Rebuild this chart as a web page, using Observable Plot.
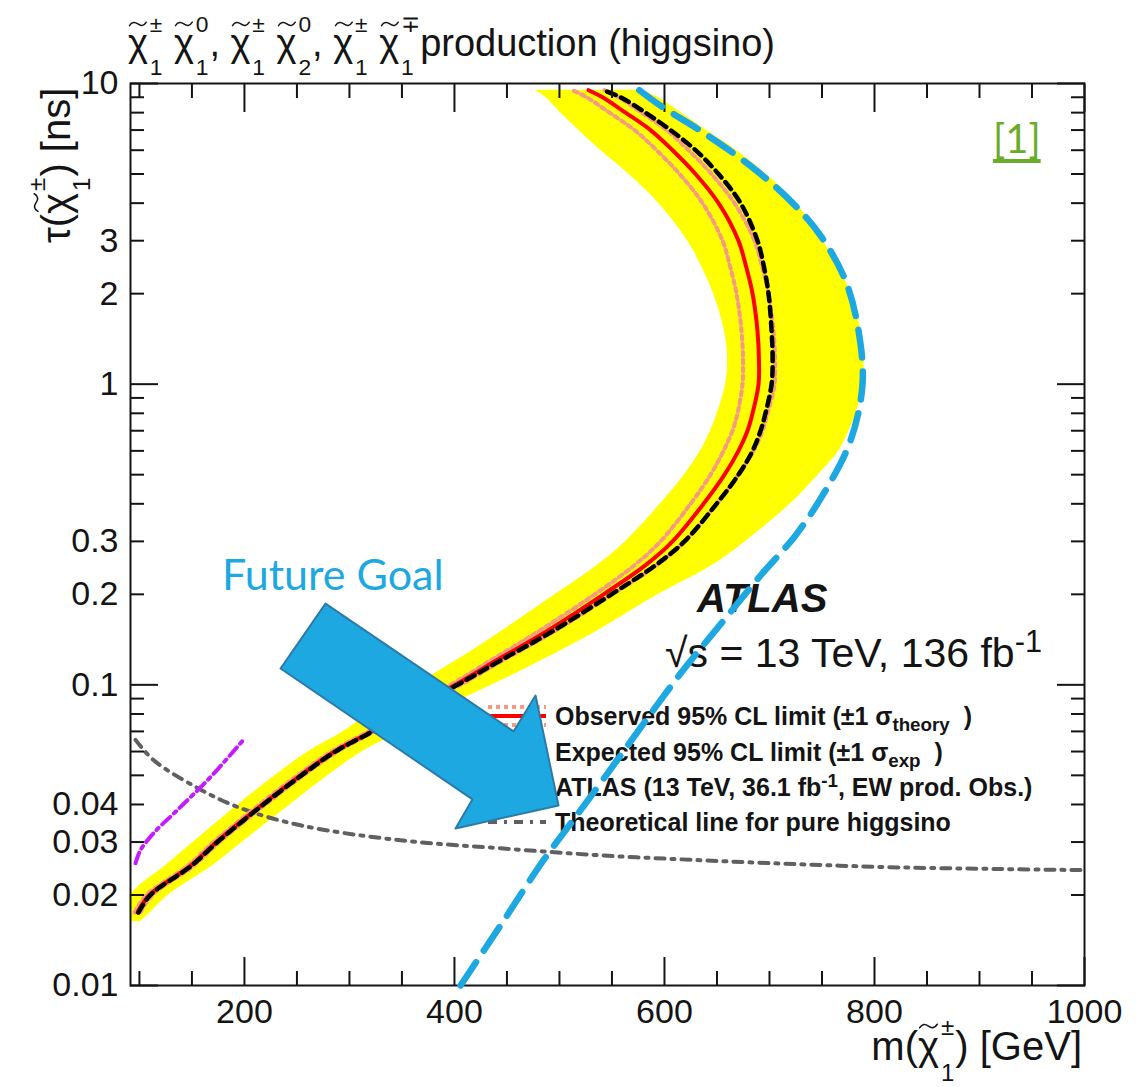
<!DOCTYPE html>
<html>
<head>
<meta charset="utf-8">
<script src="https://cdn.jsdelivr.net/npm/d3@7"></script>
<script src="https://cdn.jsdelivr.net/npm/@observablehq/plot@0.6"></script>
<style>
  html, body { margin: 0; padding: 0; background: #fff; overflow: hidden; }
  #wrap { position: relative; width: 1147px; height: 1087px; font-family: "Liberation Sans", Arial, sans-serif; color: #111; }
  .layer { position: absolute; left: 0; top: 0; }
  .t { position: absolute; white-space: nowrap; line-height: 1; }
  .chi { position: relative; display: inline-block; }
  .chi .til { position: absolute; left: .01em; top: -.07em; width: .52em; height: .155em; overflow: visible; }
  .scr { display: inline-block; position: relative; width: .68em; height: 0; font-size: .6em; }
  .scr.wide { width: .92em; }
  .scr .sp { position: absolute; left: .08em; bottom: .88em; line-height: 1; }
  .scr .sb { position: absolute; left: .08em; top: .02em; line-height: 1; }
  sub, sup { line-height: 0; font-size: .75em; }
</style>
</head>
<body>
<div id="wrap">
  <div id="base" class="layer" style="z-index:1"></div>
  <div id="overlay" class="layer" style="z-index:2;width:1147px;height:1087px"></div>
  <div id="top" class="layer" style="z-index:3"></div>
</div>
<script>
// ---- Lifetime grid (ns) shared by the limit contours ----
const tau = [0.0175, 0.02, 0.025, 0.03, 0.04, 0.05, 0.06, 0.07, 0.08, 0.1, 0.12, 0.15, 0.2, 0.25, 0.3, 0.4, 0.5, 0.6, 0.7, 0.8, 1, 1.2, 1.5, 2, 2.5, 3, 4, 5, 6, 7, 8, 9, 9.5];

// Observed 95% CL limit on m(chargino) [GeV] and its ±1σ theory variations
const observed = [98.2, 109.6, 148.6, 173.4, 217.2, 253.4, 285.8, 321, 348.6, 401, 439, 486.7, 542, 582, 607.7, 637.2, 657.2, 670.5, 679.1, 683.9, 689.6, 690, 688.6, 683.9, 677.2, 670.5, 651.5, 629.6, 607.7, 586.7, 562.9, 541, 527.7];
const observedDown = [95.3, 106.7, 145.8, 170.5, 214.3, 250.5, 282.9, 318.1, 345.8, 396.3, 433.5, 479.2, 533.5, 571.5, 596.3, 624.8, 643.9, 656.2, 664.8, 669.6, 674.3, 674.8, 673.4, 668.6, 662, 655.3, 636.3, 614.4, 592.5, 571.5, 547.7, 525.8, 512.4];
const observedUp = [101, 112.4, 151.5, 176.2, 220, 256.3, 288.6, 323.9, 351.5, 405.8, 444.9, 494.3, 550.5, 592.5, 619.1, 649.6, 670.5, 684.8, 693.4, 698.2, 704.8, 705.3, 703.9, 699.1, 692.4, 685.7, 666.7, 644.8, 622.9, 602, 578.2, 556.2, 542.9];

// Expected 95% CL limit
const expected = [99.1, 110.5, 149.5, 174.3, 218.1, 254.4, 286.7, 322, 349.6, 402.9, 442.9, 492.4, 549.5, 591.5, 619.1, 649.6, 670.5, 683.9, 691.5, 696.2, 702, 703, 702, 699.1, 694.3, 688.6, 672.5, 651.5, 629.6, 605.7, 581.9, 558.1, 541.9];

// ±1σ experimental band around the expected limit
const bandTau = [0.0163, 0.0175, 0.02, 0.025, 0.03, 0.04, 0.05, 0.06, 0.07, 0.08, 0.1, 0.12, 0.15, 0.2, 0.25, 0.3, 0.4, 0.5, 0.6, 0.7, 0.8, 1, 1.2, 1.5, 2, 2.5, 3, 4, 5, 6, 7, 8, 9, 9.5];
const bandLow = [92.5, 91.5, 92.5, 124.8, 151.5, 194.4, 229.6, 261, 294.4, 318.2, 363, 401, 443.9, 496.3, 536.3, 563, 596.3, 619.1, 634.4, 643.9, 650.3, 658.2, 660.1, 657.2, 646.7, 634.4, 622, 594.4, 565.8, 539.1, 518.2, 501, 486.7, 477.2];
const bandHigh = [101, 110.5, 127.7, 169.6, 198.2, 243.9, 280, 312.4, 348.6, 377.2, 436.3, 482, 534.4, 594.4, 645.8, 677.2, 720, 746.7, 766.2, 775.7, 782.4, 789, 790, 787.1, 777.6, 764.2, 750.9, 725.3, 696.7, 668.1, 639.6, 615.8, 593.4, 579.1];

// ATLAS 13 TeV, 36.1 fb-1 electroweak-production observed limit
const ew36Mass = [96.3, 101, 113.4, 136, 167.6, 199];
const ew36Tau = [0.0255, 0.0282, 0.0321, 0.0383, 0.0493, 0.0656];

// Theoretical lifetime of a pure higgsino
const higgsinoMass = [96.3, 113.4, 155.3, 196.3, 253.4, 348.6, 443.9, 539.1, 634.4, 729.6, 824.8, 920, 996.2];
const higgsinoTau = [0.0656, 0.0562, 0.0454, 0.0389, 0.0341, 0.0304, 0.0286, 0.0271, 0.0261, 0.0253, 0.0247, 0.0244, 0.0242];

// Projected reach ("Future Goal")
const goalMass = [405.8, 443.9, 484.8, 517.2, 541, 570.5, 615.3, 656.3, 691.5, 724.8, 753.4, 777.2, 788.6, 784.8, 772.4, 748.6, 720, 681.9, 634.4, 596.3, 567.7];
const goalTau = [0.01, 0.01585, 0.0261, 0.0371, 0.0481, 0.0668, 0.109, 0.1636, 0.231, 0.314, 0.443, 0.649, 1, 1.506, 2.21, 3.12, 4.07, 5.32, 6.96, 8.43, 10];

// Annotation arrow outline, in (mass, lifetime) units
const arrowMass = [277.2, 456.3, 477.2, 499.1, 401, 417.2, 234.4];
const arrowTau = [0.1863, 0.070, 0.0921, 0.0397, 0.0333, 0.0416, 0.1133];

// Axis ticks and labels
const xMajor = [200, 400, 600, 800, 1000];
const xMinor = [100, 150, 250, 300, 350, 450, 500, 550, 650, 700, 750, 850, 900, 950];
const yMajor = [0.01, 0.1, 1, 10];
const yMinor = [0.02, 0.03, 0.04, 0.05, 0.06, 0.07, 0.08, 0.09, 0.2, 0.3, 0.4, 0.5, 0.6, 0.7, 0.8, 0.9, 2, 3, 4, 5, 6, 7, 8, 9];
const xLabels = [200, 400, 600, 800, 1000];
const yLabels = [0.01, 0.02, 0.03, 0.04, 0.1, 0.2, 0.3, 1, 2, 3, 10];

// Colours
const INK = "#141414", YELLOW = "#ffff00", RED = "#ff0000", PINK = "#f59a84";
const PURPLE = "#c61bff", GRAY = "#606060", BLUE = "#1ea8e1", ARROW_EDGE = "#2b7ba6";
const SANS = '"Liberation Sans", Arial, sans-serif';

// ---- Tables ----
const contours = tau.map((t, i) => ({tau: t, obs: observed[i], obsDown: observedDown[i], obsUp: observedUp[i], exp: expected[i]}));
const band = bandTau.map((t, i) => ({tau: t, lo: bandLow[i], hi: bandHigh[i]}));
const ew36 = ew36Mass.map((m, i) => ({m, tau: ew36Tau[i]}));
const higgsino = higgsinoMass.map((m, i) => ({m, tau: higgsinoTau[i]}));
const goal = goalMass.map((m, i) => ({m, tau: goalTau[i]}));
const arrow = arrowMass.map((m, i) => ({m, tau: arrowTau[i]}));

const layout = {
  width: 1147, height: 1087,
  marginTop: 83, marginRight: 63, marginBottom: 102, marginLeft: 130,
  x: {type: "linear", domain: [91.5, 1000]},
  y: {type: "log", domain: [0.01, 10]},
  style: {background: "transparent", fontFamily: SANS, color: INK}
};
const curve = "catmull-rom";
const tickOpts = {fill: "none", stroke: INK, strokeWidth: 2, label: null};

const base = Plot.plot({
  ...layout,
  marks: [
    Plot.areaX(band, {y: "tau", x1: "lo", x2: "hi", fill: YELLOW, curve}),
    Plot.line(higgsino, {x: "m", y: "tau", stroke: GRAY, strokeWidth: 4, strokeDasharray: "9,7,3,7", curve}),
    Plot.line(ew36, {x: "m", y: "tau", stroke: PURPLE, strokeWidth: 4, strokeDasharray: "11,5,3,5", curve}),
    Plot.line(contours, {x: "obsDown", y: "tau", stroke: PINK, strokeWidth: 4, strokeDasharray: "4,4", curve}),
    Plot.line(contours, {x: "obsUp", y: "tau", stroke: PINK, strokeWidth: 4, strokeDasharray: "4,4", curve}),
    Plot.line(contours, {x: "obs", y: "tau", stroke: RED, strokeWidth: 4, curve}),
    Plot.line(contours, {x: "exp", y: "tau", stroke: "#000", strokeWidth: 4.5, strokeDasharray: "9,6", curve}),
    Plot.frame({stroke: INK, strokeWidth: 2}),
    // inward ticks on all four sides
    Plot.axisX({ticks: xMajor, anchor: "bottom", tickSize: -28, ...tickOpts}),
    Plot.axisX({ticks: xMinor, anchor: "bottom", tickSize: -14, ...tickOpts}),
    Plot.axisX({ticks: xMajor, anchor: "top", tickSize: -28, ...tickOpts}),
    Plot.axisX({ticks: xMinor, anchor: "top", tickSize: -14, ...tickOpts}),
    Plot.axisY({ticks: yMajor, anchor: "left", tickSize: -28, ...tickOpts}),
    Plot.axisY({ticks: yMinor, anchor: "left", tickSize: -14, ...tickOpts}),
    Plot.axisY({ticks: yMajor, anchor: "right", tickSize: -28, ...tickOpts}),
    Plot.axisY({ticks: yMinor, anchor: "right", tickSize: -14, ...tickOpts}),
    // tick labels
    Plot.text(xLabels, {x: d => d, text: d => String(d), frameAnchor: "bottom", lineAnchor: "top", dy: 13, fontSize: 34, fill: INK}),
    Plot.text(yLabels, {y: d => d, text: d => String(d), frameAnchor: "left", textAnchor: "end", lineAnchor: "middle", dx: -12, fontSize: 34, fill: INK})
  ]
});
document.getElementById("base").appendChild(base);

const topLayer = Plot.plot({
  ...layout,
  x: {...layout.x, axis: null},
  y: {...layout.y, axis: null},
  marks: [
    Plot.line(arrow, {x: "m", y: "tau", fill: BLUE, stroke: ARROW_EDGE, strokeWidth: 2, curve: "linear-closed"}),
    Plot.line(goal, {x: "m", y: "tau", stroke: BLUE, strokeWidth: 6.5, strokeDasharray: "28,14", curve})
  ]
});
document.getElementById("top").appendChild(topLayer);

// ---- Text: titles, labels, legend ----
const overlay = document.getElementById("overlay");
const tilde = `<svg class="til" viewBox="0 0 20 6" preserveAspectRatio="none"><path d="M1.5,4.8 C4,0.6 7,0.8 10,3 C13,5.2 16,5.4 18.5,1.2" fill="none" stroke="currentColor" stroke-width="1.5" stroke-linecap="round"/></svg>`;
const chi = (sp, sb, cls = "") => `<span class="chi">&chi;${tilde}</span><span class="scr ${cls}"><span class="sp">${sp}</span><span class="sb">${sb}</span></span>`;

function place(html, {x, baseline, size, weight = "normal", style = "normal", color = INK, font = SANS, asc = 0.8465, anchor = "start"}) {
  const d = document.createElement("div");
  d.className = "t";
  d.innerHTML = html;
  Object.assign(d.style, {top: (baseline - asc * size) + "px", fontSize: size + "px", fontWeight: weight, fontStyle: style, color, fontFamily: font});
  if (anchor === "end") d.style.right = (1147 - x) + "px"; else d.style.left = x + "px";
  overlay.appendChild(d);
  return d;
}

place(`${chi("&plusmn;", "1")} ${chi("0", "1")}, ${chi("&plusmn;", "1")} ${chi("0", "2")}, ${chi("&plusmn;", "1")} ${chi("&#8723;", "1", "wide")}production (higgsino)`, {x: 128, baseline: 56, size: 38});

place(`m(${chi("&plusmn;", "1")}) [GeV]`, {x: 1082, baseline: 1060, size: 40, anchor: "end"});

const yTitle = place(`&tau;(${chi("&plusmn;", "1")}) [ns]`, {x: 36, baseline: 0, size: 40});
yTitle.style.top = "243px";
yTitle.style.transformOrigin = "0 0";
yTitle.style.transform = "rotate(-90deg)";

place("ATLAS", {x: 697, baseline: 612, size: 40, weight: "bold", style: "italic"});
place("&radic;s = 13 TeV, 136 fb<sup>-1</sup>", {x: 665, baseline: 668, size: 41});

place("Future Goal", {x: 222, baseline: 590, size: 43, color: BLUE, font: "Lato, sans-serif", asc: 0.887});
const ref = place("[1]", {x: 993, baseline: 153, size: 40, color: "#6aab2a", font: "Lato, sans-serif", asc: 0.887});
ref.style.textDecoration = "underline";
ref.style.textUnderlineOffset = "6px";

// Legend
const legendRows = [
  {key: "obs", label: "Observed 95% CL limit (&plusmn;1 &sigma;<sub>theory</sub>&nbsp; )"},
  {key: "exp", label: "Expected 95% CL limit (&plusmn;1 &sigma;<sub>exp</sub>&nbsp; )"},
  {key: "ew36", label: "ATLAS (13 TeV, 36.1 fb<sup>-1</sup>, EW prod. Obs.)"},
  {key: "higgsino", label: "Theoretical line for pure higgsino"}
];
const rowY = i => 716 + i * 35.3;
const keyX0 = 488, keyX1 = 546;
const keys = d3.select(overlay).append("svg")
  .attr("width", 1147).attr("height", 1087)
  .style("position", "absolute").style("left", 0).style("top", 0);
legendRows.forEach((r, i) => {
  const y = rowY(i);
  const seg = (dy, stroke, width, dash) => keys.append("line")
    .attr("x1", keyX0).attr("x2", keyX1).attr("y1", y + dy).attr("y2", y + dy)
    .attr("stroke", stroke).attr("stroke-width", width).attr("stroke-dasharray", dash);
  if (r.key === "obs") {
    seg(-9, PINK, 4, "4,4"); seg(9, PINK, 4, "4,4"); seg(0, RED, 4, null);
  } else if (r.key === "exp") {
    keys.append("rect").attr("x", keyX0).attr("y", y - 12).attr("width", keyX1 - keyX0).attr("height", 24).attr("fill", YELLOW);
    seg(0, "#000", 4.5, "9,6");
  } else if (r.key === "ew36") {
    seg(0, PURPLE, 4, "11,5,3,5");
  } else {
    seg(0, GRAY, 4, "9,7,3,7");
  }
  place(r.label, {x: 555, baseline: y + 9.5, size: 25, weight: "bold"});
});
</script>
</body>
</html>
